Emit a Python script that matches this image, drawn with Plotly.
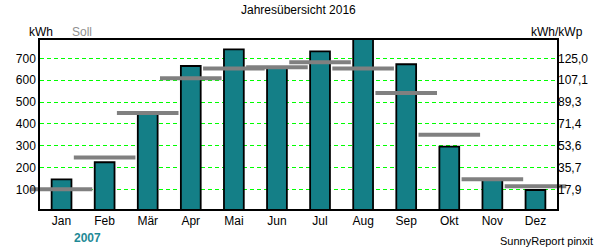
import plotly.graph_objects as go

months = ["Jan", "Feb", "Mär", "Apr", "Mai", "Jun", "Jul", "Aug", "Sep", "Okt", "Nov", "Dez"]
ertrag = [146, 224, 445, 665, 741, 657, 732, 800, 673, 296, 143, 97]
soll = [100, 246, 450, 609, 654, 659, 682, 654, 541, 350, 146, 114]
left_ticks = [100, 200, 300, 400, 500, 600, 700]
right_ticktext = ["17,9", "35,7", "53,6", "71,4", "89,3", "107,1", "125,0"]
y_range = [10, 784]

FONT = "Liberation Sans, Arial, sans-serif"
x = list(range(len(months)))

fig = go.Figure()
fig.add_trace(go.Bar(
    x=x, y=ertrag, width=0.46,
    marker=dict(color="#147F87", line=dict(color="black", width=1.8)),
    showlegend=False, hoverinfo="skip",
))
fig.add_trace(go.Scatter(
    x=x, y=soll, mode="markers",
    marker=dict(symbol="line-ew", size=44, color="#808080",
                line=dict(color="#808080", width=4)),
    showlegend=False, hoverinfo="skip", cliponaxis=False,
))
fig.add_trace(go.Scatter(
    x=[x[0]], y=[soll[0]], yaxis="y2", mode="markers",
    marker=dict(opacity=0), showlegend=False, hoverinfo="skip",
))

fig.update_layout(
    width=600, height=250,
    margin=dict(l=40, r=40, t=40, b=41),
    paper_bgcolor="white", plot_bgcolor="white",
    font=dict(family=FONT, size=12, color="black"),
    bargap=0.54,
    xaxis=dict(
        range=[-0.5, 11.5], tickmode="array", tickvals=x, ticktext=months,
        showgrid=False, zeroline=False,
        showline=True, linecolor="black", linewidth=1.5, mirror=True,
        ticks="", tickfont=dict(size=12, color="black"),
    ),
    yaxis=dict(
        range=y_range, tickmode="array", tickvals=left_ticks,
        showgrid=True, gridcolor="#00FF00", gridwidth=1, griddash="4px,3px",
        zeroline=False, showline=True, linecolor="black", linewidth=1.5,
        mirror=True, ticks="", ticklabelstandoff=0,
        tickfont=dict(size=12, color="black"),
    ),
    yaxis2=dict(
        range=y_range, overlaying="y", side="right", tickmode="array",
        tickvals=left_ticks, ticktext=right_ticktext,
        showgrid=False, zeroline=False, showline=False, ticks="",
        tickfont=dict(size=12, color="black"),
    ),
    annotations=[
        dict(text="Jahresübersicht 2016", x=0.5, y=10, xref="paper", yref="paper",
             showarrow=False, font=dict(size=12, color="black")),
    ],
)

anns = [
    dict(text="Jahresübersicht 2016", x=300, y=10, color="black", bold=False, xanchor="center"),
    dict(text="kWh", x=27, y=32, color="black", bold=False, xanchor="left"),
    dict(text="Soll", x=70, y=32, color="#909090", bold=False, xanchor="left"),
    dict(text="kWh/kWp", x=532, y=32, color="black", bold=False, xanchor="left"),
    dict(text="<b>2007</b>", x=87.5, y=238, color="#1F8A96", bold=True, xanchor="center"),
    dict(text="SunnyReport pinxit", x=598, y=241, color="black", bold=False, xanchor="right"),
]
fig.layout.annotations = []
for a in anns:
    fig.add_annotation(
        text=a["text"], xref="paper", yref="paper",
        x=(a["x"] - 40) / 520 if a["xanchor"] != "center" else (a["x"] - 40) / 520,
        y=(209 - a["y"]) / 169,
        xanchor=a["xanchor"], yanchor="middle", showarrow=False,
        font=dict(size=12 if "Sunny" not in a["text"] else 11, color=a["color"]),
    )

fig.write_html("out.html")
